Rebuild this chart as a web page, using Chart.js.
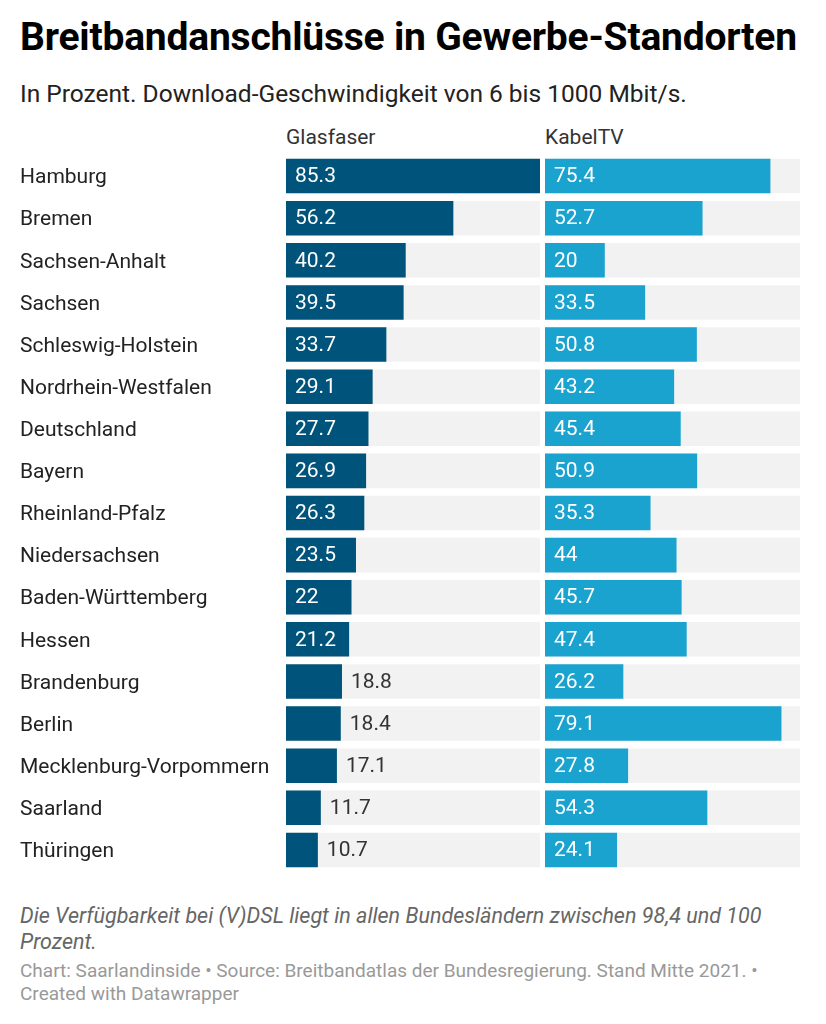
<!DOCTYPE html>
<html lang="de">
<head>
<meta charset="utf-8">
<script src="https://cdn.jsdelivr.net/npm/chart.js@4/dist/chart.umd.min.js"></script>
<style>
  body { margin:0; background:#fff; font-family:Roboto, sans-serif; color:#333; }
  #wrap { position:relative; width:826px; height:1024px; overflow:hidden; }
  .abs { position:absolute; white-space:nowrap; }
  #title { left:20px; top:14px; font-size:39px; font-weight:700; color:#000; letter-spacing:-0.2px; }
  #sub { left:20px; top:79px; font-size:24.5px; color:#222; }
  .head { top:125px; font-size:21px; color:#333; }
  #note { left:20px; top:903px; width:780px; font-size:21.5px; font-style:italic; color:#666; line-height:26px; white-space:normal; }
  #src { left:20px; top:959px; width:790px; font-size:19px; color:#999; line-height:23px; white-space:normal; }
</style>
</head>
<body>
<div id="wrap">
  <div id="title" class="abs">Breitbandanschlüsse in Gewerbe-Standorten</div>
  <div id="sub" class="abs">In Prozent. Download-Geschwindigkeit von 6 bis 1000 Mbit/s.</div>
  <div class="abs head" style="left:286px">Glasfaser</div>
  <div class="abs head" style="left:545px">KabelTV</div>
  <div class="abs" style="left:0;top:155px;width:540px;height:716px"><canvas id="c1"></canvas></div>
  <div class="abs" style="left:545px;top:155px;width:255px;height:716px"><canvas id="c2"></canvas></div>
  <div id="note" class="abs">Die Verfügbarkeit bei (V)DSL liegt in allen Bundesländern zwischen 98,4 und 100 Prozent.</div>
  <div id="src" class="abs">Chart: Saarlandinside • Source: Breitbandatlas der Bundesregierung. Stand Mitte 2021. • Created with Datawrapper</div>
</div>
<script>
// data
const laender = ['Hamburg','Bremen','Sachsen-Anhalt','Sachsen','Schleswig-Holstein','Nordrhein-Westfalen','Deutschland','Bayern','Rheinland-Pfalz','Niedersachsen','Baden-Württemberg','Hessen','Brandenburg','Berlin','Mecklenburg-Vorpommern','Saarland','Thüringen'];
const glasfaser = [85.3,56.2,40.2,39.5,33.7,29.1,27.7,26.9,26.3,23.5,22,21.2,18.8,18.4,17.1,11.7,10.7];
const kabelTV   = [75.4,52.7,20,33.5,50.8,43.2,45.4,50.9,35.3,44,45.7,47.4,26.2,79.1,27.8,54.3,24.1];

const MAX = Math.max(...glasfaser, ...kabelTV);
const FONT = 'Roboto, sans-serif';

// value labels: white inside the bar if it fits, dark right of it otherwise
const valueLabels = {
  id:'valueLabels',
  afterDatasetsDraw(chart) {
    const {ctx} = chart;
    const meta = chart.getDatasetMeta(1);
    const vals = chart.data.datasets[1].data;
    ctx.save();
    ctx.font = '21px ' + FONT;
    ctx.textBaseline = 'middle';
    ctx.textAlign = 'left';
    meta.data.forEach((bar, i) => {
      const txt = String(vals[i]);
      const w = bar.x - bar.base;
      const tw = ctx.measureText(txt).width;
      if (w > tw + 22) { ctx.fillStyle = '#fff'; ctx.fillText(txt, bar.base + 9, bar.y + 1); }
      else { ctx.fillStyle = '#333'; ctx.fillText(txt, bar.x + 9, bar.y + 1); }
    });
    ctx.restore();
  }
};

// row names, placed with the category scale
const rowNames = {
  id:'rowNames',
  afterDraw(chart, args, opts) {
    if (!opts.show) return;
    const {ctx} = chart, y = chart.scales.y;
    ctx.save();
    ctx.font = '21px ' + FONT;
    ctx.fillStyle = '#222';
    ctx.textBaseline = 'middle';
    ctx.textAlign = 'left';
    chart.data.labels.forEach((l, i) => ctx.fillText(l, 20, y.getPixelForValue(i) + 2));
    ctx.restore();
  }
};

const make = (id, values, color, showLabels) => new Chart(document.getElementById(id), {
  type:'bar',
  data:{ labels:laender, datasets:[
    { data:laender.map(() => MAX), backgroundColor:'#f2f2f2', order:2, grouped:false, barPercentage:1, categoryPercentage:0.82 },
    { data:values, backgroundColor:color, order:1, grouped:false, barPercentage:1, categoryPercentage:0.82 }
  ]},
  options:{
    indexAxis:'y', responsive:true, maintainAspectRatio:false, animation:false,
    layout:{ padding:{ left: showLabels ? 286 : 0, right:0, top:0, bottom:0 } },
    plugins:{ legend:{ display:false }, tooltip:{ enabled:false }, rowNames:{ show:showLabels } },
    scales:{
      x:{ display:false, min:0, max:MAX },
      y:{ display:false }
    }
  },
  plugins:[valueLabels, rowNames]
});

make('c1', glasfaser, '#00537a', true);
make('c2', kabelTV, '#1aa3cf', false);
</script>
</body>
</html>
